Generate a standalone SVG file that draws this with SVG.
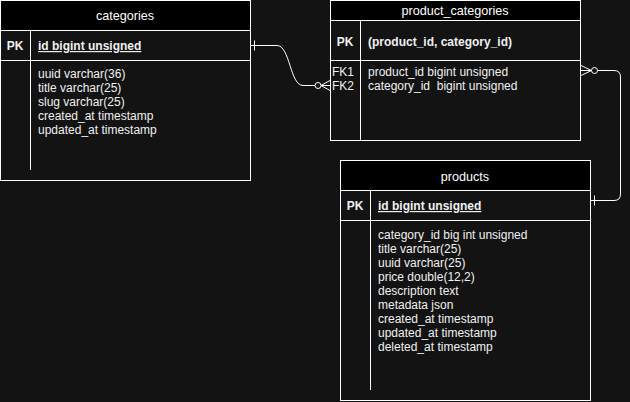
<svg xmlns="http://www.w3.org/2000/svg" width="630" height="402" viewBox="0 0 630 402">
<style>
.bg{fill:#131313}
.box{fill:#131313;stroke:#ffffff;stroke-width:1}
.hdr{fill:#000000;stroke:#ffffff;stroke-width:1}
.ln{stroke:#ffffff;stroke-width:1;fill:none}
text{font-family:"Liberation Sans",Arial,sans-serif;font-size:12px;fill:#f0f0f0}
.t{text-anchor:middle;fill:#ffffff;font-size:12.6px}
.b{font-weight:bold}
.u{text-decoration:underline}
.c{stroke:#ffffff;stroke-width:1;fill:none}
</style>
<rect class="bg" x="0" y="0" width="630" height="402"/>
<g id="categories">
<rect class="box" x="0.5" y="0.5" width="250" height="180"/>
<rect class="hdr" x="0.5" y="0.5" width="250" height="30"/>
<line class="ln" x1="0.5" y1="60.5" x2="250.5" y2="60.5"/>
<line class="ln" x1="30.5" y1="30.5" x2="30.5" y2="170"/>
<text class="t" x="125" y="20">categories</text>
<text class="b" x="15" y="50" text-anchor="middle">PK</text>
<text class="b u" x="38" y="50">id bigint unsigned</text>
<text x="38" y="77.5">uuid varchar(36)</text>
<text x="38" y="91.5">title varchar(25)</text>
<text x="38" y="105.5">slug varchar(25)</text>
<text x="38" y="119.5">created_at timestamp</text>
<text x="38" y="133.5">updated_at timestamp</text>
</g>
<g id="product_categories">
<rect class="box" x="330.5" y="0.5" width="250" height="140"/>
<rect class="hdr" x="330.5" y="0.5" width="250" height="20"/>
<line class="ln" x1="330.5" y1="60.5" x2="580.5" y2="60.5"/>
<line class="ln" x1="360.5" y1="20.5" x2="360.5" y2="140.5"/>
<text class="t" x="455" y="15">product_categories</text>
<text class="b" x="345" y="45.5" text-anchor="middle">PK</text>
<text class="b" x="368" y="45.5">(product_id, category_id)</text>
<text x="332" y="76">FK1</text>
<text x="332" y="90">FK2</text>
<text x="368" y="76">product_id bigint unsigned</text>
<text x="368" y="90" xml:space="preserve">category_id  bigint unsigned</text>
</g>
<g id="products">
<rect class="box" x="340.5" y="160.5" width="250" height="240"/>
<rect class="hdr" x="340.5" y="160.5" width="250" height="30"/>
<line class="ln" x1="340.5" y1="220.5" x2="590.5" y2="220.5"/>
<line class="ln" x1="370.5" y1="190.5" x2="370.5" y2="390"/>
<text class="t" x="465" y="180.5">products</text>
<text class="b" x="355" y="210" text-anchor="middle">PK</text>
<text class="b u" x="378" y="210">id bigint unsigned</text>
<text x="378" y="238.5">category_id big int unsigned</text>
<text x="378" y="252.5">title varchar(25)</text>
<text x="378" y="266.5">uuid varchar(25)</text>
<text x="378" y="280.5">price double(12,2)</text>
<text x="378" y="294.5">description text</text>
<text x="378" y="308.5">metadata json</text>
<text x="378" y="322.5">created_at timestamp</text>
<text x="378" y="336.5">updated_at timestamp</text>
<text x="378" y="350.5">deleted_at timestamp</text>
</g>
<g id="connectors">
<path class="c" d="M250.5,45.5 L277,45.5 C290,45.5 290,85.5 303,85.5 L315,85.5"/>
<line class="c" x1="254.5" y1="40.5" x2="254.5" y2="50.5"/>
<circle class="c" cx="318" cy="85.5" r="3"/>
<path class="c" d="M330,80.5 L321,85.5 L330,90.5 M321,85.5 L330,85.5"/>
<path class="c" d="M597.5,70.5 L614,70.5 Q620.5,70.5 620.5,77 L620.5,194 Q620.5,200.5 614,200.5 L590.5,200.5"/>
<circle class="c" cx="594.5" cy="70.5" r="3"/>
<path class="c" d="M581,65.5 L591.5,70.5 L581,75.5 M581,70.5 L591.5,70.5"/>
<line class="c" x1="594.5" y1="195.5" x2="594.5" y2="205.5"/>
</g>
</svg>
